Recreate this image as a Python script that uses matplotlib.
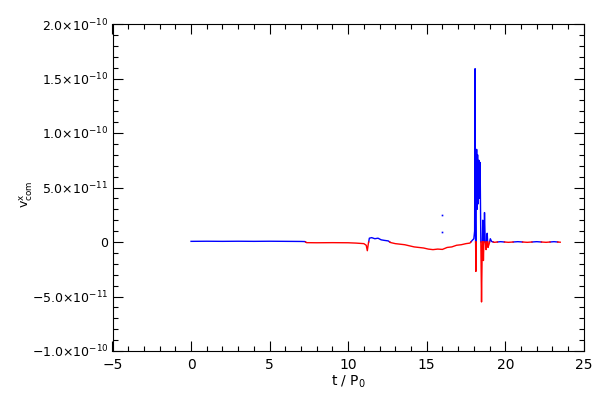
import numpy as np
import matplotlib
matplotlib.use("Agg")
import matplotlib.pyplot as plt
from matplotlib.ticker import MultipleLocator, FuncFormatter

# time in units of P0, velocity in units of 1e-12
t_vals = [0.0, 1.0, 2.0, 3.0, 4.0, 5.0, 6.0, 7.0, 7.25, 7.35, 8.0, 9.0, 10.0,
          10.5, 11.0, 11.15, 11.22, 11.28, 11.35, 11.5, 11.7, 11.9, 12.1, 12.3,
          12.55, 12.7, 13.0, 13.3, 13.6, 13.9, 14.2, 14.5, 14.8, 15.1, 15.4,
          15.7, 16.0, 16.3, 16.6, 16.9, 17.2, 17.5, 17.75, 17.9, 18.0, 18.05,
          18.08, 18.10, 18.13, 18.15, 18.18, 18.21, 18.24, 18.28, 18.32, 18.36,
          18.40, 18.44, 18.49, 18.53, 18.57, 18.61, 18.65, 18.68, 18.72, 18.78,
          18.85, 18.9, 18.97, 19.05, 19.13, 19.3, 19.7, 20.2, 20.8, 21.4, 22.0,
          22.6, 23.1, 23.5]
v_vals = [0.6, 0.7, 0.6, 0.7, 0.6, 0.7, 0.6, 0.5, 0.4, -0.6, -0.7, -0.6, -0.7,
          -1.0, -1.5, -3.0, -8.0, -2.0, 3.5, 4.0, 3.0, 3.5, 2.0, 1.5,
          1.0, -0.5, -1.5, -2.0, -2.5, -3.5, -4.5, -5.0, -5.5, -6.5, -7.0,
          -6.5, -6.8, -5.0, -4.5, -3.0, -2.5, -1.5, -1.0, 1.5, 3.0, 10.0,
          159.0, 20.0, -27.0, 40.0, 85.0, 30.0, 80.0, 35.0, 75.0, 40.0,
          73.0, 8.0, -55.0, -10.0, 20.0, -17.0, 5.0, 27.0, 2.0, -7.0,
          8.0, -5.0, -2.0, 3.0, 0.5, -0.3, 0.3, -0.3, 0.3, -0.3, 0.3,
          -0.3, 0.3, -0.2]

# isolated points near t = 16
t_dots = [16.0, 16.0]
v_dots = [25.0, 9.0]

SCALE = 1e-12


def split_at_zero(t, v):
    """Insert zero crossings so each sign can be drawn separately."""
    tt, vv = [t[0]], [v[0]]
    for i in range(1, len(t)):
        if v[i - 1] * v[i] < 0:
            tc = t[i - 1] + (t[i] - t[i - 1]) * v[i - 1] / (v[i - 1] - v[i])
            tt.append(tc)
            vv.append(0.0)
        tt.append(t[i])
        vv.append(v[i])
    return np.array(tt), np.array(vv)


t, v = split_at_zero(np.array(t_vals), np.array(v_vals) * SCALE)
v_pos = np.where(v >= 0, v, np.nan)
v_neg = np.where(v <= 0, v, np.nan)

fig = plt.figure(figsize=(6, 4), dpi=100)
ax = fig.add_axes([0.1875, 0.1225, 0.7855, 0.8175])

ax.plot(t, v_pos, color="#0000ff", lw=1.0)
ax.plot(t, v_neg, color="#ff0000", lw=1.0)
ax.plot(t_dots, np.array(v_dots) * SCALE, ls="none", marker="s", ms=1.2,
        color="#0000ff", mew=0)

ax.set_xlim(-5, 25)
ax.set_ylim(-1e-10, 2e-10)
ax.xaxis.set_major_locator(MultipleLocator(5))
ax.xaxis.set_minor_locator(MultipleLocator(1))
ax.yaxis.set_major_locator(MultipleLocator(5e-11))
ax.yaxis.set_minor_locator(MultipleLocator(1e-11))


def yfmt(val, pos):
    if abs(val) < 1e-20:
        return "0"
    exp = int(np.floor(np.log10(abs(val)) + 1e-9))
    mant = abs(val) / 10 ** exp
    sign = "\u2212" if val < 0 else ""
    return "%s%.1f\u00d710$^{%d}$" % (sign, mant, exp)


def xfmt(val, pos):
    return ("\u2212%d" % abs(val)) if val < 0 else "%d" % val


ax.yaxis.set_major_formatter(FuncFormatter(yfmt))
ax.xaxis.set_major_formatter(FuncFormatter(xfmt))

ax.tick_params(which="both", direction="in", top=True, right=True,
               width=0.8)
ax.tick_params(which="major", length=7)
ax.tick_params(which="minor", length=3.5)
ax.tick_params(axis="y", pad=3, labelsize=9)
ax.tick_params(axis="x", pad=5, labelsize=10)
for s in ax.spines.values():
    s.set_linewidth(0.8)

ax.set_xlabel(r"t / P$_0$", fontsize=10, labelpad=1)
ax.set_ylabel(r"v$^{\rm x}_{\rm com}$", fontsize=9)
ax.yaxis.set_label_coords(-0.165, 0.48)

fig.savefig("out.png", dpi=100)
